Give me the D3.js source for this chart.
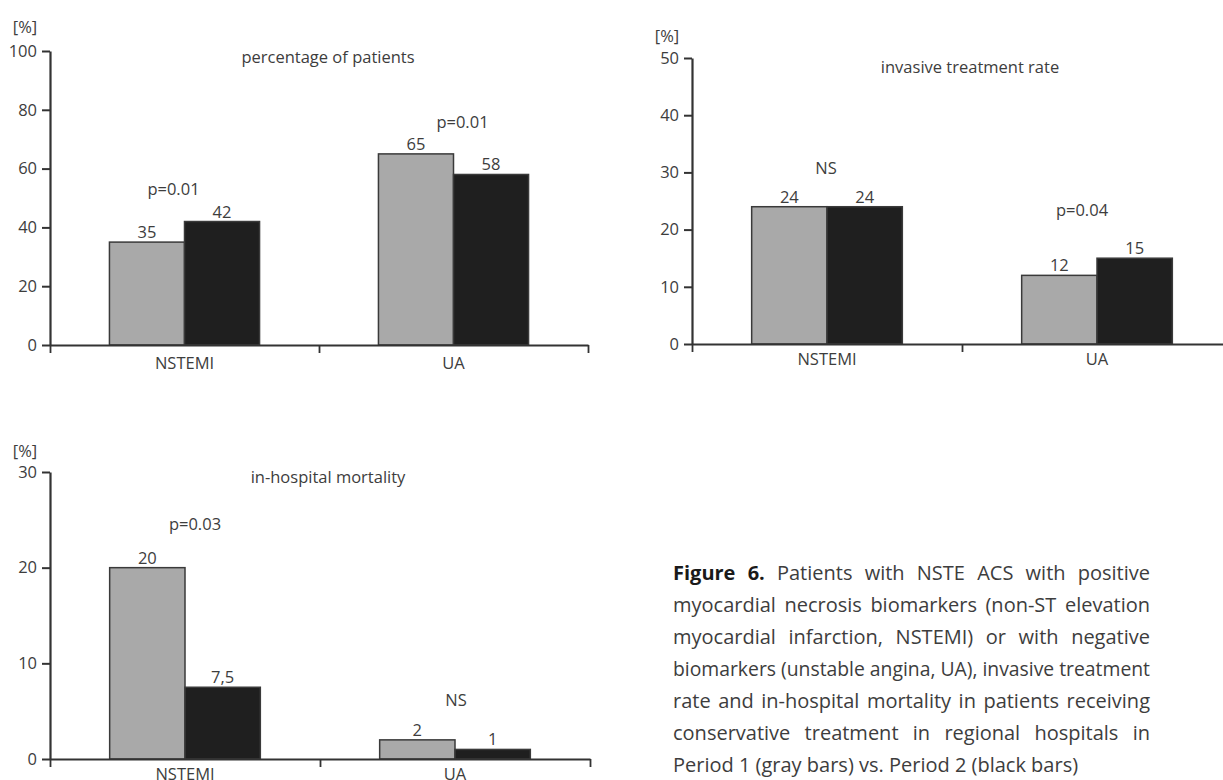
<!DOCTYPE html>
<html>
<head>
<meta charset="utf-8">
<script src="https://cdn.jsdelivr.net/npm/d3@7"></script>
<style>
  body { margin: 0; background: #fff; }
  svg text { font-family: 'Open Sans', 'Noto Sans', sans-serif; fill: #3d3d3d; }
</style>
</head>
<body>
<svg width="1223" height="780"></svg>
<script>
// data
const groups = ['NSTEMI', 'UA'];
const periods = ['Period 1', 'Period 2'];

const patientsP1 = [35, 65];
const patientsP2 = [42, 58];
const patientsSig = ['p=0.01', 'p=0.01'];
const patientsTicks = [0, 20, 40, 60, 80, 100];

const invasiveP1 = [24, 12];
const invasiveP2 = [24, 15];
const invasiveSig = ['NS', 'p=0.04'];
const invasiveTicks = [0, 10, 20, 30, 40, 50];

const mortalityP1 = [20, 2];
const mortalityP2 = [7.5, 1];
const mortalitySig = ['p=0.03', 'NS'];
const mortalityTicks = [0, 10, 20, 30];

const titles = ['percentage of patients', 'invasive treatment rate', 'in-hospital mortality'];
const unitLabel = '[%]';

const captionLines = [
    'Patients with NSTE ACS with positive',
    'myocardial necrosis biomarkers (non-ST elevation',
    'myocardial infarction, NSTEMI) or with negative',
    'biomarkers (unstable angina, UA), invasive treatment',
    'rate and in-hospital mortality in patients receiving',
    'conservative treatment in regional hospitals in',
    'Period 1 (gray bars) vs. Period 2 (black bars)'
];
const captionLead = 'Figure 6.';

const colors = { 'Period 1': '#a9a9a9', 'Period 2': '#1f1f1f' };
const fontSize = '16.5px';

const svg = d3.select('svg');

// layout of the three panels
const panels = [
    { p1: patientsP1, p2: patientsP2, sig: patientsSig, ticks: patientsTicks, title: titles[0],
      x0: 50, band: 269, y0: 345, yTop: 51, titleY: 57, unitY: 27, labelPad: 12,
      sigDx: [-11, 9], sigDy: [-32, -32] },
    { p1: invasiveP1, p2: invasiveP2, sig: invasiveSig, ticks: invasiveTicks, title: titles[1],
      x0: 692, band: 270, y0: 344, yTop: 58, titleY: 67, unitY: 36, labelPad: 9,
      sigDx: [-1, -15], sigDy: [-38, -48] },
    { p1: mortalityP1, p2: mortalityP2, sig: mortalitySig, ticks: mortalityTicks, title: titles[2],
      x0: 50, band: 270, y0: 759, yTop: 472, titleY: 477, unitY: 451, labelPad: 9,
      sigDx: [10, 1], sigDy: [-43, -40] }
];

const fmt = d => String(d).replace('.', ',');

panels.forEach(p => {
    const g = svg.append('g');

    const yScale = d3.scaleLinear()
        .domain([0, d3.max(p.ticks)])
        .range([p.y0, p.yTop]);

    const xScale = d3.scaleBand()
        .domain(groups)
        .range([p.x0, p.x0 + groups.length * p.band]);

    const xEdge = d3.scaleLinear()
        .domain([0, groups.length])
        .range(xScale.range());

    const barW = xScale.bandwidth() * 0.279;
    const xInner = d3.scaleBand()
        .domain(periods)
        .range([xScale.bandwidth() / 2 - barW, xScale.bandwidth() / 2 + barW]);

    const rows = groups.map((grp, i) => ({
        grp, i, values: [
            { period: periods[0], v: p.p1[i] },
            { period: periods[1], v: p.p2[i] }
        ]
    }));

    // bars
    const grpG = g.selectAll('.grp')
        .data(rows)
        .enter().append('g')
        .attr('transform', d => `translate(${xScale(d.grp)},0)`);

    grpG.selectAll('rect')
        .data(d => d.values)
        .enter().append('rect')
        .attr('x', d => xInner(d.period))
        .attr('y', d => yScale(d.v))
        .attr('width', xInner.bandwidth())
        .attr('height', d => yScale(0) - yScale(d.v))
        .attr('fill', d => colors[d.period])
        .attr('stroke', '#3a3a3a')
        .attr('stroke-width', 1.5);

    grpG.selectAll('.val')
        .data(d => d.values)
        .enter().append('text')
        .attr('x', d => xInner(d.period) + xInner.bandwidth() / 2)
        .attr('y', d => yScale(d.v) - 4)
        .attr('text-anchor', 'middle')
        .style('font-size', fontSize)
        .text(d => fmt(d.v));

    grpG.append('text')
        .attr('x', d => xScale.bandwidth() / 2 + p.sigDx[d.i])
        .attr('y', d => yScale(d3.max(d.values, v => v.v)) + p.sigDy[d.i])
        .attr('dy', '0.35em')
        .attr('text-anchor', 'middle')
        .style('font-size', fontSize)
        .text(d => p.sig[d.i]);

    // axes
    const yAxis = d3.axisLeft(yScale)
        .tickValues(p.ticks)
        .tickSize(8)
        .tickSizeOuter(0)
        .tickPadding(5);
    const yAxisG = g.append('g')
        .attr('transform', `translate(${p.x0},0)`)
        .call(yAxis);
    yAxisG.selectAll('text').style('font-size', fontSize).attr('fill', null);
    yAxisG.select('.domain').attr('stroke', '#333').attr('stroke-width', 2.2);
    yAxisG.selectAll('.tick line').attr('stroke', '#333').attr('stroke-width', 2);

    const xEdgeAxis = d3.axisBottom(xEdge)
        .tickValues(d3.range(groups.length + 1))
        .tickFormat('')
        .tickSize(8)
        .tickSizeOuter(0);
    const xEdgeG = g.append('g')
        .attr('transform', `translate(0,${p.y0})`)
        .call(xEdgeAxis);
    xEdgeG.select('.domain').attr('stroke', '#333').attr('stroke-width', 1.8);
    xEdgeG.selectAll('.tick line').attr('stroke', '#333').attr('stroke-width', 1.8);

    const xAxis = d3.axisBottom(xScale).tickSize(0).tickPadding(p.labelPad);
    const xAxisG = g.append('g')
        .attr('transform', `translate(0,${p.y0})`)
        .call(xAxis);
    xAxisG.select('.domain').remove();
    xAxisG.selectAll('text').style('font-size', fontSize).attr('fill', null);

    g.append('text')
        .attr('x', p.x0 + 278)
        .attr('y', p.titleY)
        .attr('dy', '0.35em')
        .attr('text-anchor', 'middle')
        .style('font-size', fontSize)
        .text(p.title);

    g.append('text')
        .attr('x', p.x0 - 25)
        .attr('y', p.unitY)
        .attr('dy', '0.35em')
        .attr('text-anchor', 'middle')
        .style('font-size', fontSize)
        .text(unitLabel);
});

// caption, justified
const cap = { x: 673, width: 477, y: 580, lineH: 32, size: 20, minGap: 5 };
const capG = svg.append('g').style('font-size', cap.size + 'px');

const measure = (word, bold) => {
    const t = capG.append('text').style('font-weight', bold ? 'bold' : null).text(word);
    const w = t.node().getComputedTextLength();
    t.remove();
    return w;
};

captionLines.forEach((line, li) => {
    const y = cap.y + li * cap.lineH;
    let words = line.split(' ').map(w => ({ w, bold: false }));
    if (li === 0) words = captionLead.split(' ').map(w => ({ w, bold: true })).concat(words);
    words.forEach(d => d.len = measure(d.w, d.bold));
    const total = d3.sum(words, d => d.len);
    const last = li === captionLines.length - 1;
    const gap = last ? measure('a b', false) - measure('ab', false) : (cap.width - total) / (words.length - 1);

    if (!last && gap < cap.minGap) {
        // too long for the column: squeeze the whole line
        capG.append('text')
            .attr('x', cap.x)
            .attr('y', y)
            .attr('textLength', cap.width)
            .attr('lengthAdjust', 'spacingAndGlyphs')
            .text(line);
        return;
    }

    let x = cap.x;
    const text = capG.append('text').attr('y', y);
    words.forEach(d => {
        text.append('tspan')
            .attr('x', x)
            .style('font-weight', d.bold ? 'bold' : null)
            .attr('fill', d.bold ? '#1a1a1a' : null)
            .text(d.w);
        x += d.len + gap;
    });
});
</script>
</body>
</html>
